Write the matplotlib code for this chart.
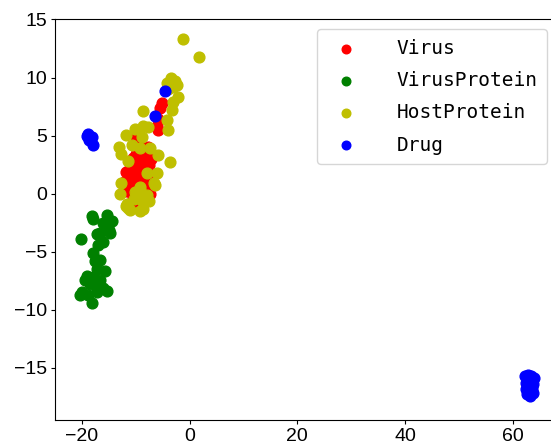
import matplotlib.pyplot as plt

# Virus
virus_x = [-11.8, -11.2, -10.6, -10.0, -9.5, -9.0, -8.4, -7.9, -7.3,
           -11.5, -10.9, -10.3, -9.7, -9.1, -8.6, -8.0, -7.4, -6.9,
           -11.0, -10.4, -9.8, -9.2, -8.7, -8.1, -7.6,
           -10.6, -10.0, -9.4, -8.9, -8.3, -7.7,
           -9.9, -9.3, -8.8, -9.7, -12.2, -11.9, -10.2, -8.5,
           -6.1, -5.8, -5.8, -5.5, -5.2, -7.1]
virus_y = [0.2, 0.5, -0.3, 0.1, -0.6, 0.4, -0.2, 0.6, 0.0,
           1.2, 1.6, 0.9, 1.4, 1.0, 1.7, 1.3, 1.1, 0.8,
           2.2, 2.6, 2.0, 2.4, 2.9, 2.1, 2.5,
           3.1, 3.4, 3.0, 3.6, 3.3, 4.05,
           4.86, 4.2, 3.9, 4.9, 1.0, 1.9, -0.8, -0.5,
           5.8, 5.5, 6.4, 7.35, 7.8, 3.0]

# VirusProtein
vprot_x = [-18.2, -15.4, -14.5, -16.0, -14.9, -16.6, -17.2, -14.8, -20.2, -16.0,
           -17.1, -17.9, -16.6, -17.5, -15.7, -17.2, -19.1, -17.9, -16.6, -19.4,
           -18.5, -17.2, -16.0, -15.4, -20.3, -18.8, -17.2, -18.2, -20.0, -18.0]
vprot_y = [-1.95, -1.8, -2.4, -2.5, -3.1, -3.4, -3.5, -3.4, -3.9, -4.2,
           -4.4, -5.1, -5.7, -5.8, -6.7, -6.5, -7.1, -7.2, -7.4, -7.4,
           -7.8, -7.95, -8.1, -8.4, -8.7, -8.7, -8.5, -9.4, -8.5, -2.2]

# HostProtein
host_x = [-1.2, 1.8, -4.2, -3.5, -2.8, -3.0, -2.3, -4.0, -2.1, -3.0,
          -3.3, -8.7, -4.25, -3.95, -10.1, -8.7, -11.8, -8.9, -13.2, -12.8,
          -10.7, -9.2, -7.35, -5.8, -11.4, -3.6, -8.0, -6.1, -12.7, -9.2,
          -6.4, -12.9, -9.3, -8.0, -10.4, -8.6, -11.4, -8.7, -11.8, -11.7,
          -11.0, -9.2, -9.5, -8.3, -7.5, -10.1, -6.7, -7.7]
host_y = [13.3, 11.8, 9.5, 10.0, 9.7, 9.2, 9.4, 9.0, 8.3, 7.9,
          7.2, 7.1, 6.3, 5.5, 5.6, 5.8, 5.06, 4.9, 4.05, 3.4,
          4.2, 3.9, 3.9, 3.3, 2.8, 2.7, 1.8, 1.8, 0.9, 0.6,
          0.7, 0.0, 0.3, -0.1, -0.5, -0.7, -1.2, -1.3, -1.1, -0.9,
          -1.4, -1.5, -0.4, -0.5, -0.6, 0.1, 0.9, 5.7]

# Drug
drug_x = [-18.8, -18.2, -18.6, -17.9, -19.1, -4.5, -6.4,
          62.3, 62.8, 63.4, 63.9, 62.5, 63.1, 63.7, 62.4, 63.0, 63.6,
          62.6, 63.2, 63.8, 62.9, 63.5]
drug_y = [5.1, 4.9, 4.6, 4.2, 5.0, 8.8, 6.7,
          -15.7, -15.6, -15.7, -15.9, -16.3, -16.2, -16.4, -16.8, -16.9, -16.8,
          -17.3, -17.4, -17.2, -15.9, -16.6]

fig = plt.figure(figsize=(5.51, 4.46), dpi=100)
ax = fig.add_axes([0.0998, 0.0583, 0.911, 0.898])

ax.scatter(virus_x, virus_y, c='r', s=60, label='Virus')
ax.scatter(vprot_x, vprot_y, c='g', s=60, label='VirusProtein')
ax.scatter(host_x, host_y, c='y', s=60, label='HostProtein')
ax.scatter(drug_x, drug_y, c='b', s=60, label='Drug')

ax.set_xlim(-25.0, 68.2)
ax.set_ylim(-19.5, 15.0)
ax.set_xticks([-20, 0, 20, 40, 60])
ax.set_yticks([-15, -10, -5, 0, 5, 10, 15])
ax.tick_params(axis='both', length=3, pad=2.5)
for lab in ax.get_xticklabels() + ax.get_yticklabels():
    lab.set_fontfamily('Liberation Sans')
    lab.set_fontsize(14)

ax.legend(loc='upper right', prop={'family': 'DejaVu Sans Mono', 'size': 14},
          markerscale=0.8, handletextpad=1.6, labelspacing=0.68,
          borderpad=0.5)

plt.savefig('out.png', dpi=100)
